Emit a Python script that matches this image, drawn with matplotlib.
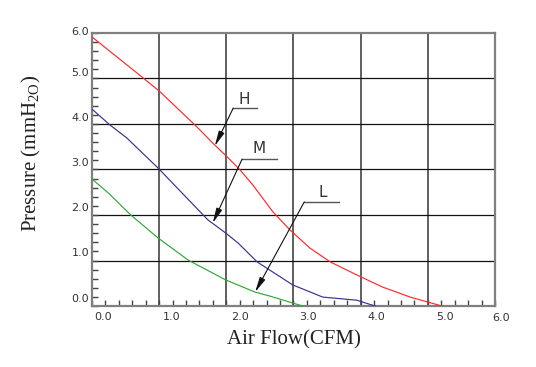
import matplotlib
matplotlib.use("Agg")
import matplotlib.pyplot as plt
from matplotlib.ticker import FixedLocator
import numpy as np

# fan curves (CFM, mmH2O)
h_flow = [-0.17, 0.58, 0.83, 1.37, 1.63, 1.81, 2.00, 2.19, 2.48, 2.73, 3.02, 3.32, 3.71, 4.09, 4.49, 4.96]
h_press = [5.78, 4.87, 4.56, 3.78, 3.38, 3.12, 2.83, 2.49, 1.90, 1.50, 1.10, 0.79, 0.50, 0.23, 0.01, -0.19]

m_flow = [-0.17, 0.10, 0.34, 0.80, 1.53, 1.79, 1.97, 2.25, 2.77, 3.21, 3.71, 3.98]
m_press = [4.18, 3.82, 3.54, 2.87, 1.72, 1.43, 1.21, 0.79, 0.28, 0.01, -0.06, -0.19]

l_flow = [-0.17, 0.07, 0.40, 0.80, 1.24, 1.79, 2.22, 2.44, 2.92]
l_press = [2.63, 2.32, 1.83, 1.32, 0.83, 0.39, 0.12, 0.03, -0.19]

x_ticks = [0, 1, 2, 3, 4, 5]
x_labels = ["0.0", "1.0", "2.0", "3.0", "4.0", "5.0"]
y_ticks = [0, 1, 2, 3, 4, 5]
y_labels = ["0.0", "1.0", "2.0", "3.0", "4.0", "5.0"]

# curve labels: name, text pos, shelf start, shelf end, arrow tip
callouts = [
    ("H", (2.06, 4.38), (1.90, 4.20), 2.25, (1.63, 3.36)),
    ("M", (2.28, 3.31), (2.03, 3.07), 2.54, (1.60, 1.65)),
    ("L", (3.21, 2.32), (2.94, 2.12), 3.45, (2.22, 0.12)),
]

plt.rcParams['mathtext.fontset'] = 'custom'
plt.rcParams['mathtext.rm'] = 'Liberation Serif'

fig = plt.figure(figsize=(5.36, 3.67), dpi=100)
ax = fig.add_axes([0.1716, 0.1662, 0.7519, 0.7439])

xmin, xmax = -0.168, 5.732
ymin, ymax = -0.188, 5.865
ax.set_xlim(xmin, xmax)
ax.set_ylim(ymin, ymax)

# grid of the drawing is regular in the frame, not at the labels
for gx in np.linspace(xmin, xmax, 7)[1:-1]:
    ax.axvline(gx, color="#444444", lw=1.2, zorder=1)
for gy in np.linspace(ymin, ymax, 7)[1:-1]:
    ax.axhline(gy, color="#111111", lw=0.9, zorder=1)

ax.plot(h_flow, h_press, color="#ff2a2a", lw=0.85, zorder=3)
ax.plot(m_flow, m_press, color="#35348f", lw=0.85, zorder=3)
ax.plot(l_flow, l_press, color="#2ea83a", lw=0.85, zorder=3)

for name, tpos, s0, s1, tip in callouts:
    ax.text(tpos[0], tpos[1], name, fontsize=11, color="#333333",
            ha="center", va="center", fontfamily="DejaVu Sans")
    ax.plot([s0[0], s1], [s0[1], s0[1]], color="#555555", lw=1.0, zorder=4)
    ax.annotate("", xy=tip, xytext=s0,
                arrowprops=dict(arrowstyle="-|>,head_length=0.9,head_width=0.18",
                                color="#111111", lw=0.8, mutation_scale=10,
                                shrinkA=0, shrinkB=0), zorder=5)

# labels
ax.set_xticks(x_ticks)
ax.set_xticklabels(x_labels)
ax.set_yticks(y_ticks)
ax.set_yticklabels(y_labels)
ax.tick_params(which="major", length=0, labelsize=8, labelcolor="#333333")
ax.tick_params(axis="x", which="major", pad=4)
ax.tick_params(axis="y", which="major", pad=2)
ax.text(5.82, -0.45, "6.0", fontsize=8, color="#333333", ha="center", va="center", clip_on=False)
ax.text(-0.21, 5.89, "6.0", fontsize=8, color="#333333", ha="right", va="center", clip_on=False)

ax.xaxis.set_minor_locator(FixedLocator(np.linspace(xmin, xmax, 31)))
ax.yaxis.set_minor_locator(FixedLocator(np.linspace(ymin, ymax, 31)))
ax.tick_params(which="minor", direction="in", length=4, width=1, color="#444444")

for sp in ax.spines.values():
    sp.set_color("#808080")
    sp.set_linewidth(1.6)

fig.text(294 / 536, 1 - 340 / 367, "Air Flow(CFM)", fontsize=15,
         fontfamily="Liberation Serif", ha="center", va="center", color="#222222")
fig.text(31 / 536, 1 - 153 / 367, r"Pressure (mmH$_{\mathrm{2O}}$)", fontsize=15,
         fontfamily="Liberation Serif", rotation=90, ha="center", va="center", color="#222222")

fig.savefig("out.png", dpi=100)
